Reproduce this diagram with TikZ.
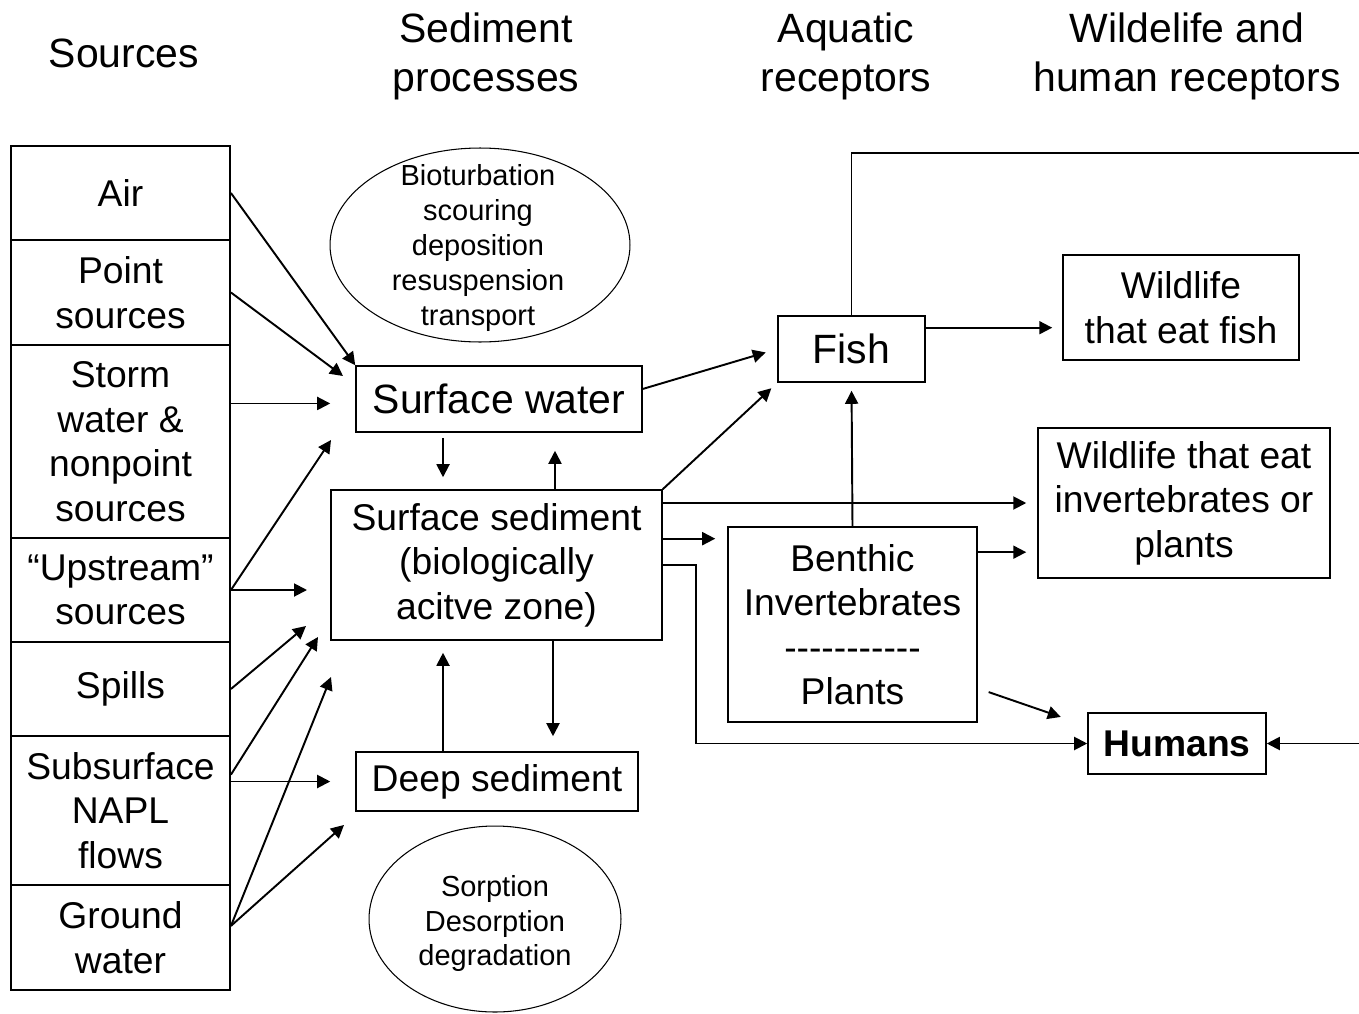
\documentclass[tikz,border=0pt]{standalone}
\usepackage{fontspec}
\setmainfont{Liberation Sans}
\usetikzlibrary{arrows.meta}
\tikzstyle{head} = [align=center, font=\fontsize{23.3}{28}\selectfont]
\tikzstyle{src} = [rectangle, draw, line width=1.1pt, minimum width=4.38cm, align=center, inner sep=0pt]
\tikzstyle{box} = [rectangle, draw, line width=0.9pt, align=center, inner sep=0pt]
\tikzstyle{bigbox} = [box, font=\fontsize{23.3}{25.6}\selectfont]
\tikzstyle{proc} = [align=center, inner sep=0pt, font=\fontsize{16.5}{19.9}\selectfont]
\tikzstyle{arrow} = [line width=1.1pt, -{Triangle[length=0.26cm, width=0.26cm]}]
\tikzstyle{line} = [line width=1.1pt]

\begin{document}
\begin{tikzpicture}[x=0.02cm, y=-0.02cm, font=\fontsize{21.2}{25.3}\selectfont]
        \useasboundingbox (0,0) rectangle (1359,1014);
        % column heads
        \node [head] at (124,53) (hsrc) {Sources};
        \node [head] at (486,56.5) (hsed) {Sediment\\processes};
        \node [head] at (846,56.5) (haqu) {Aquatic\\receptors};
        \node [head] at (1187,56.5) (hwild) {Wildelife and\\human receptors};
        % sources
        \node [src, minimum height=1.88cm] at (120.5,193) (air) {Air};
        \node [src, minimum height=2.1cm] at (120.5,292.5) (point) {Point\\sources};
        \node [src, minimum height=3.86cm] at (120.5,441.5) (storm) {Storm\\water \&\\nonpoint\\sources};
        \node [src, minimum height=2.08cm] at (120.5,590) (upstream) {“Upstream”\\sources};
        \node [src, minimum height=1.88cm] at (120.5,689) (spills) {Spills};
        \node [src, minimum height=2.98cm] at (120.5,810.5) (subsurface) {Subsurface\\NAPL\\flows};
        \node [src, minimum height=2.1cm] at (120.5,937.5) (ground) {Ground\\water};
        % sediment
        \node [proc] at (478,248) (bio) {Bioturbation\\scouring\\deposition\\resuspension\\transport};
        \draw [line width=0.6pt] (480,245) ellipse [x radius=3cm, y radius=1.94cm];
        \node [bigbox, minimum width=5.72cm, minimum height=1.32cm] at (499,399) (sw) {Surface water};
        \node [box, minimum width=6.62cm, minimum height=3cm] at (496.5,565) (ss) {Surface sediment\\(biologically\\acitve zone)};
        \node [box, minimum width=5.64cm, minimum height=1.18cm] at (497,781.5) (ds) {Deep sediment};
        \node [proc] at (495,923.5) (sorp) {Sorption\\Desorption\\degradation};
        \draw [line width=0.6pt] (495,919) ellipse [x radius=2.52cm, y radius=1.86cm];
        % receptors
        \node [bigbox, minimum width=2.94cm, minimum height=1.32cm] at (851.5,349) (fish) {Fish};
        \node [box, minimum width=4.98cm, minimum height=3.9cm] at (852.5,624.5) (benthic) {Benthic\\Invertebrates\\{-}{-}{-}{-}{-}{-}{-}{-}{-}{-}{-}\\Plants};
        \node [box, minimum width=4.72cm, minimum height=2.1cm] at (1181,307.5) (wfish) {Wildlife\\that eat fish};
        \node [box, minimum width=5.84cm, minimum height=3cm] at (1184,503) (winv) {Wildlife that eat\\invertebrates or\\plants};
        \node [box, minimum width=3.56cm, minimum height=1.22cm] at (1177,743.5) (humans) {\textbf{Humans}};
        % free ends
        \coordinate (t1) at (343,376);
        \coordinate (t2) at (331,440);
        \coordinate (t3) at (307,590);
        \coordinate (t4) at (306,626);
        \coordinate (t5) at (318,637);
        \coordinate (t6) at (331,677);
        \coordinate (t7) at (344,825);
        \coordinate (edgeA) at (1359,153);
        \coordinate (edgeB) at (1359,743.5);
        % sources to sediment
        \draw [arrow] (air.east) -- (sw.north west);
        \draw [arrow] (point.east) -- (t1);
        \draw [arrow, shorten >=0.5cm] (storm.19) -- (storm.19 -| sw.west);
        \draw [arrow] (upstream.east) -- (t2);
        \draw [arrow] (upstream.east) -- (t3);
        \draw [arrow] (spills.east) -- (t4);
        \draw [arrow] (subsurface.18) -- (t5);
        \draw [arrow, shorten >=0.5cm] (subsurface.east |- ds.west) -- (ds.west);
        \draw [arrow] (ground.6.5) -- (t6);
        \draw [arrow] (ground.6.5) -- (t7);
        % within sediment
        \draw [arrow, shorten <=0.1cm, shorten >=0.24cm] ([xshift=-1.12cm]sw.south) -- ([xshift=-1.12cm]sw.south |- ss.north);
        \draw [arrow, shorten >=0.36cm] ([xshift=1.17cm]ss.north) -- ([xshift=1.17cm]ss.north |- sw.south);
        \draw [arrow, shorten >=0.3cm] ([xshift=1.13cm]ss.south) -- ([xshift=1.13cm]ss.south |- ds.north);
        \draw [arrow, shorten >=0.24cm] ([xshift=-1.08cm]ds.north) -- ([xshift=-1.08cm]ds.north |- ss.south);
        % to receptors
        \draw [arrow, shorten >=0.24cm] (sw.4) -- (fish.west);
        \draw [arrow, shorten >=0.16cm] (ss.north east) -- (fish.south west);
        \draw [arrow, shorten >=0.22cm] (ss.east |- winv.west) -- (winv.west);
        \draw [arrow, shorten >=0.24cm] (ss.9) -- (ss.9 -| benthic.west);
        \draw [arrow] (ss.east) -- ++(33,0) |- (humans.west);
        \draw [arrow, shorten >=0.16cm] (benthic.north) -- (fish.south);
        \draw [arrow, shorten >=0.22cm] (benthic.30.6) -- (benthic.30.6 -| winv.west);
        \draw [arrow, shorten <=0.23cm, shorten >=0.56cm] (benthic.-27) -- (humans.169);
        \draw [arrow, shorten >=0.2cm] (fish.16.7) -- (fish.16.7 -| wfish.west);
        \draw [line] (fish.north) |- (edgeA);
        \draw [arrow] (edgeB) -- (humans.east);
        \end{tikzpicture}
\end{document}
